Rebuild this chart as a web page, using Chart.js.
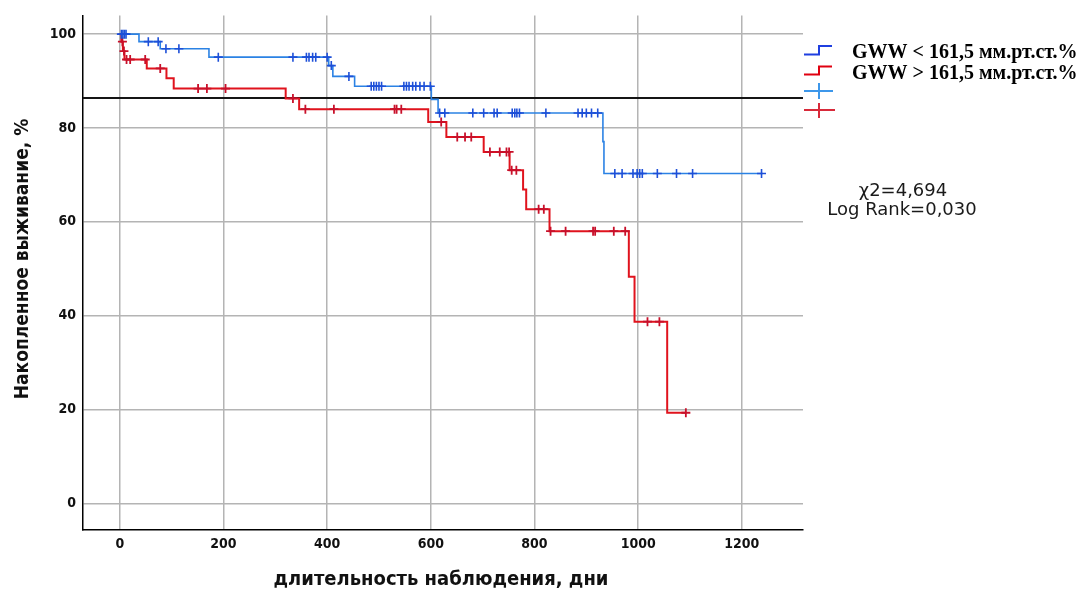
<!DOCTYPE html>
<html>
<head>
<meta charset="utf-8">
<script src="https://cdn.jsdelivr.net/npm/chart.js@4.4.1/dist/chart.umd.min.js"></script>
<style>
  html, body { margin: 0; padding: 0; background: #fff; }
  #wrap { width: 1087px; height: 593px; position: relative; }
</style>
</head>
<body>
<div id="wrap"><canvas id="km" width="1087" height="593"></canvas></div>
<script>
// Kaplan–Meier curves: event times (days) and cumulative survival (%) after each step
const lowTimes  = [0, 37, 78, 172, 403, 411, 453, 601, 614, 932, 934, 1240];
const lowSurv   = [100, 98.4, 96.9, 95.1, 93.3, 91.0, 88.9, 86.1, 83.2, 77.1, 70.3, 70.3];
const lowCensored = [3, 6, 9, 12, 55, 74, 89, 114, 190, 334, 360, 365, 372, 378, 400, 408, 442,
  485, 490, 495, 500, 505, 548, 553, 558, 565, 571, 579, 587, 599, 617, 627, 681, 702, 722, 728,
  757, 762, 766, 771, 822, 884, 892, 900, 910, 922, 955, 969, 990, 998, 1003, 1008, 1037, 1074,
  1105, 1238];

const highTimes = [0, 3, 6, 9, 52, 90, 104, 320, 346, 595, 630, 702, 752, 778, 784, 829, 982, 993, 1056, 1093];
const highSurv  = [100, 98.4, 96.4, 94.6, 92.7, 90.6, 88.4, 86.3, 84.0, 81.3, 78.1, 74.9, 71.0, 66.9, 62.7, 58.0, 48.3, 38.7, 19.3, 19.3];
const highCensored = [5, 8, 13, 20, 49, 78, 151, 168, 204, 334, 358, 413, 530, 534, 543, 620, 651,
  666, 678, 714, 733, 746, 751, 756, 765, 808, 818, 831, 860, 913, 917, 953, 975, 1018, 1041, 1092];

const referenceLevel = 86.4;
const xTickValues = [0, 200, 400, 600, 800, 1000, 1200];
const yTickValues = [0, 20, 40, 60, 80, 100];
const xRange = [-71, 1318];
const yRange = [-5.7, 104];

const legendLabels = ['GWW < 161,5 мм.рт.ст.%', 'GWW > 161,5 мм.рт.ст.%'];
const statLines = ['χ2=4,694', 'Log Rank=0,030'];
const xTitle = 'длительность наблюдения, дни';
const yTitle = 'Накопленное выживание, %';

// survival value of a step curve at time t
function survivalAt(times, surv, t) {
  let v = surv[0];
  for (let i = 0; i < times.length; i++) { if (times[i] <= t) v = surv[i]; }
  return v;
}
const toPoints = (times, surv) => times.map((t, i) => ({ x: t, y: surv[i] }));
const censorPoints = (cens, times, surv) => cens.map(t => ({ x: t, y: survivalAt(times, surv, t) }));

const BLUE_LINE = '#2b82e4', BLUE_MARK = '#1d4fd8';
const RED_LINE = '#e0131d', RED_MARK = '#c8102a';
const COND = '"DejaVu Sans Condensed", "DejaVu Sans"';

// axis titles, legend and test statistics
const decorations = {
  id: 'decorations',
  afterDraw(chart) {
    const ctx = chart.ctx;
    ctx.save();
    ctx.fillStyle = '#111';
    ctx.font = 'bold 20px ' + COND;
    ctx.textAlign = 'center';
    ctx.textBaseline = 'middle';
    ctx.fillText(xTitle, 441, 580);
    ctx.save();
    ctx.translate(23, 259);
    ctx.rotate(-Math.PI / 2);
    ctx.font = 'bold 19px ' + COND;
    ctx.fillText(yTitle, 0, 0);
    ctx.restore();

    // legend symbols
    ctx.lineWidth = 2;
    ctx.strokeStyle = '#1f3fe0';
    ctx.beginPath(); ctx.moveTo(804, 54.5); ctx.lineTo(819, 54.5); ctx.lineTo(819, 46); ctx.lineTo(832, 46); ctx.stroke();
    ctx.strokeStyle = '#e00010';
    ctx.beginPath(); ctx.moveTo(804, 74.5); ctx.lineTo(819, 74.5); ctx.lineTo(819, 66.5); ctx.lineTo(832, 66.5); ctx.stroke();
    ctx.strokeStyle = '#3d97ea';
    ctx.beginPath(); ctx.moveTo(804, 91); ctx.lineTo(833, 91); ctx.moveTo(819, 83); ctx.lineTo(819, 99); ctx.stroke();
    ctx.strokeStyle = '#d82a3a';
    ctx.beginPath(); ctx.moveTo(804, 110); ctx.lineTo(835, 110); ctx.moveTo(819, 103); ctx.lineTo(819, 118); ctx.stroke();

    ctx.fillStyle = '#000';
    ctx.font = 'bold 20px "Liberation Serif"';
    ctx.textAlign = 'left';
    ctx.textBaseline = 'alphabetic';
    ctx.fillText(legendLabels[0], 852, 58);
    ctx.fillText(legendLabels[1], 852, 79);

    ctx.fillStyle = '#1a1a1a';
    ctx.font = '18px "DejaVu Sans"';
    ctx.textAlign = 'center';
    ctx.fillText(statLines[0], 903, 196);
    ctx.fillText(statLines[1], 902, 215);
    ctx.restore();
  }
};

const tickFont = { family: 'DejaVu Sans Condensed, DejaVu Sans', size: 14, weight: 'bold' };
const plainNumber = v => String(v);

new Chart(document.getElementById('km'), {
  type: 'line',
  data: {
    datasets: [
      { data: censorPoints(lowCensored, lowTimes, lowSurv), showLine: false, pointStyle: 'cross',
        pointRadius: 4.5, pointBorderWidth: 1.6, borderColor: BLUE_MARK, backgroundColor: BLUE_MARK },
      { data: toPoints(lowTimes, lowSurv), stepped: true, borderColor: BLUE_LINE, borderWidth: 1.6,
        pointRadius: 0, fill: false },
      { data: censorPoints(highCensored, highTimes, highSurv), showLine: false, pointStyle: 'cross',
        pointRadius: 4.5, pointBorderWidth: 1.8, borderColor: RED_MARK, backgroundColor: RED_MARK },
      { data: toPoints(highTimes, highSurv), stepped: true, borderColor: RED_LINE, borderWidth: 2,
        pointRadius: 0, fill: false },
      { data: [{ x: xRange[0], y: referenceLevel }, { x: xRange[1], y: referenceLevel }],
        borderColor: '#151515', borderWidth: 2, pointRadius: 0, fill: false }
    ]
  },
  options: {
    responsive: false,
    animation: false,
    devicePixelRatio: 1,
    layout: { padding: { left: 0, right: 284, top: 15, bottom: 0 } },
    plugins: { legend: { display: false }, tooltip: { enabled: false } },
    scales: {
      x: {
        type: 'linear', min: xRange[0], max: xRange[1],
        afterBuildTicks: s => { s.ticks = xTickValues.map(v => ({ value: v })); },
        afterFit: s => { s.height = 63; },
        grid: { color: '#b4b4b4', lineWidth: 1.5, drawTicks: false },
        border: { color: '#000', width: 1.5 },
        ticks: { font: tickFont, color: '#111', padding: 6, maxRotation: 0, autoSkip: false, callback: plainNumber }
      },
      y: {
        type: 'linear', min: yRange[0], max: yRange[1],
        afterBuildTicks: s => { s.ticks = yTickValues.map(v => ({ value: v })); },
        afterFit: s => { s.width = 83; },
        grid: { color: '#b4b4b4', lineWidth: 1.5, drawTicks: false },
        border: { color: '#000', width: 1.5 },
        ticks: { font: tickFont, color: '#111', padding: 7, autoSkip: false, callback: plainNumber }
      }
    }
  },
  plugins: [decorations]
});
</script>
</body>
</html>
